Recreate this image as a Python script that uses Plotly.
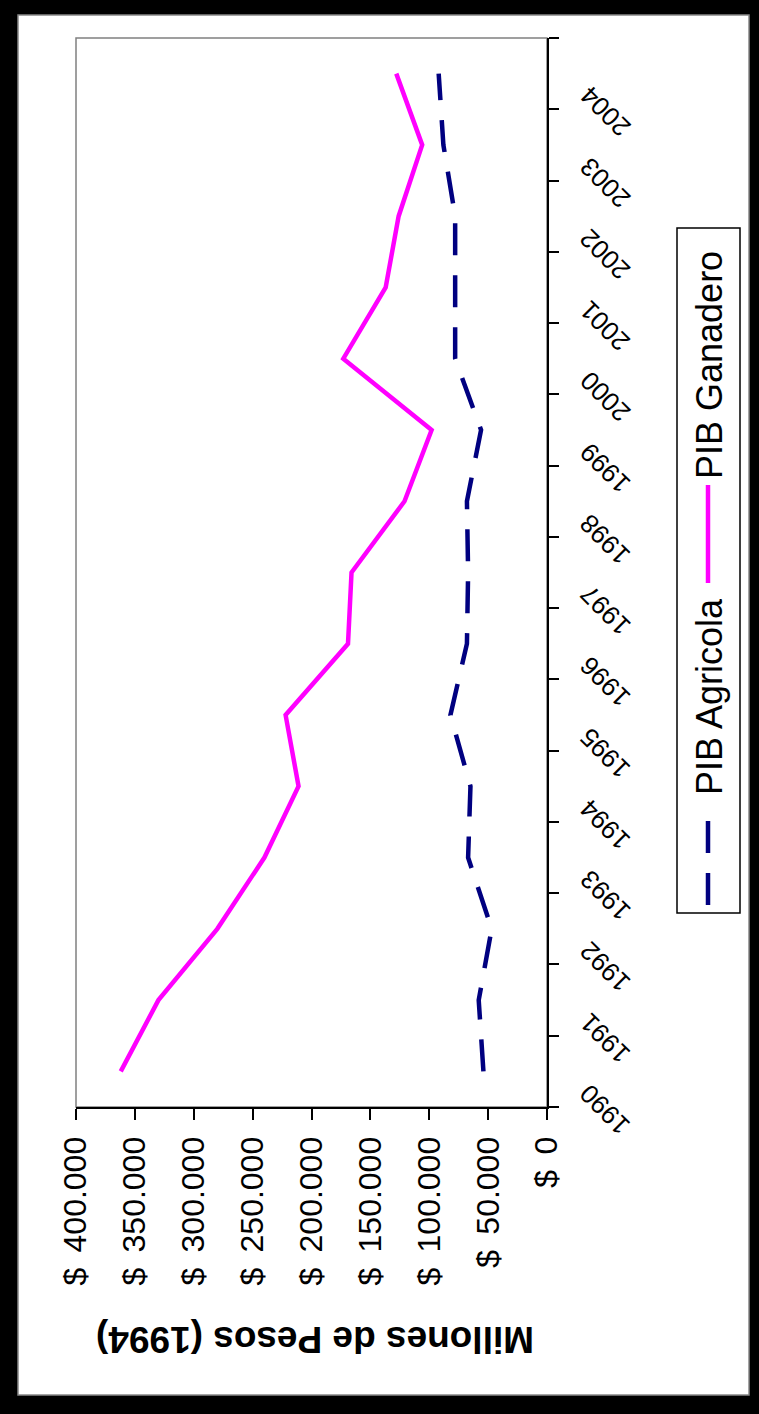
import plotly.graph_objects as go

years = [str(y) for y in range(1990, 2005)]
pib_agricola = [54000, 58000, 47000, 67000, 65000, 82000, 68000, 67000, 68000, 56000, 78000, 78000, 78000, 88000, 92000]
pib_ganadero = [362000, 330000, 280000, 240000, 211000, 222000, 169000, 166000, 121000, 98000, 173000, 137000, 126000, 106000, 128000]
value_ticks = list(range(0, 400001, 50000))
value_ticktext = ["$\u00a0\u2009" + f"{v:,}".replace(",", ".") for v in value_ticks]

W, H = 759, 1414
L, R, T, B = 76, 547, 38, 1107

def px(x):
    return (x - L) / (R - L)

def py(y):
    return (B - y) / (B - T)

FONT = "Liberation Sans, Arial, sans-serif"

fig = go.Figure()
fig.add_trace(go.Scatter(x=pib_agricola, y=years, mode="lines", name="PIB Agricola",
                         line=dict(color="#000080", width=4.5, dash="32px,20px")))
fig.add_trace(go.Scatter(x=pib_ganadero, y=years, mode="lines", name="PIB Ganadero",
                         line=dict(color="#FF00FF", width=4.5)))

shapes = [
    dict(type="rect", xref="paper", yref="paper", x0=px(18), x1=px(749), y0=py(1395), y1=py(15),
         fillcolor="white", line=dict(color="#888888", width=1.5), layer="below"),
    dict(type="rect", xref="paper", yref="paper", x0=0, x1=1, y0=0, y1=1,
         line=dict(color="#808080", width=1.5), layer="below"),
    dict(type="rect", xref="paper", yref="paper", x0=px(677), x1=px(740), y0=py(913), y1=py(228),
         fillcolor="white", line=dict(color="black", width=1.5)),
    dict(type="line", xref="paper", yref="paper", x0=px(708), x1=px(708), y0=py(905), y1=py(812),
         line=dict(color="#000080", width=4.5, dash="32px,20px")),
    dict(type="line", xref="paper", yref="paper", x0=px(708), x1=px(708), y0=py(583), y1=py(485),
         line=dict(color="#FF00FF", width=4.5)),
]

annotations = [
    dict(text="<b>Millones de Pesos (1994)</b>", xref="paper", yref="paper", x=px(315), y=py(1340),
         showarrow=False, textangle=180, font=dict(family=FONT, size=37, color="black"),
         xanchor="center", yanchor="middle"),
    dict(text="PIB Agricola", xref="paper", yref="paper", x=px(709), y=py(697),
         showarrow=False, textangle=-90, font=dict(family=FONT, size=36, color="black"),
         xanchor="center", yanchor="middle"),
    dict(text="PIB Ganadero", xref="paper", yref="paper", x=px(709), y=py(365),
         showarrow=False, textangle=-90, font=dict(family=FONT, size=36, color="black"),
         xanchor="center", yanchor="middle"),
]
# category (year) labels, rotated like the reference
for i, yr in enumerate(years):
    annotations.append(dict(text=yr, xref="paper", yref="y", x=px(605), y=i, yshift=-38,
                            showarrow=False, textangle=-135,
                            font=dict(family=FONT, size=26, color="black"),
                            xanchor="center", yanchor="middle"))

fig.update_layout(
    width=W, height=H,
    margin=dict(l=L, r=W - R, t=T, b=H - B, pad=0),
    paper_bgcolor="black", plot_bgcolor="white",
    showlegend=False,
    font=dict(family=FONT, color="black"),
    shapes=shapes, annotations=annotations,
    xaxis=dict(range=[400000, 0], side="bottom", showgrid=False, zeroline=False,
               showline=True, linecolor="black", linewidth=2,
               ticks="outside", ticklen=11, tickwidth=2, tickcolor="black",
               tickvals=value_ticks, ticktext=value_ticktext, ticklabelstandoff=4,
               tickangle=-90, tickfont=dict(family=FONT, size=32, color="black")),
    yaxis=dict(type="category", categoryorder="array", categoryarray=years,
               range=[-0.5, len(years) - 0.5], autorange=False,
               side="right", showgrid=False, zeroline=False,
               showline=True, linecolor="black", linewidth=2,
               ticks="outside", ticklen=10, tickwidth=2, tickcolor="black",
               tickson="boundaries", showticklabels=False),
)

fig.write_html("out.html", config={"displayModeBar": False},
               post_script="document.body.style.margin='0';document.body.style.overflow='hidden';")
